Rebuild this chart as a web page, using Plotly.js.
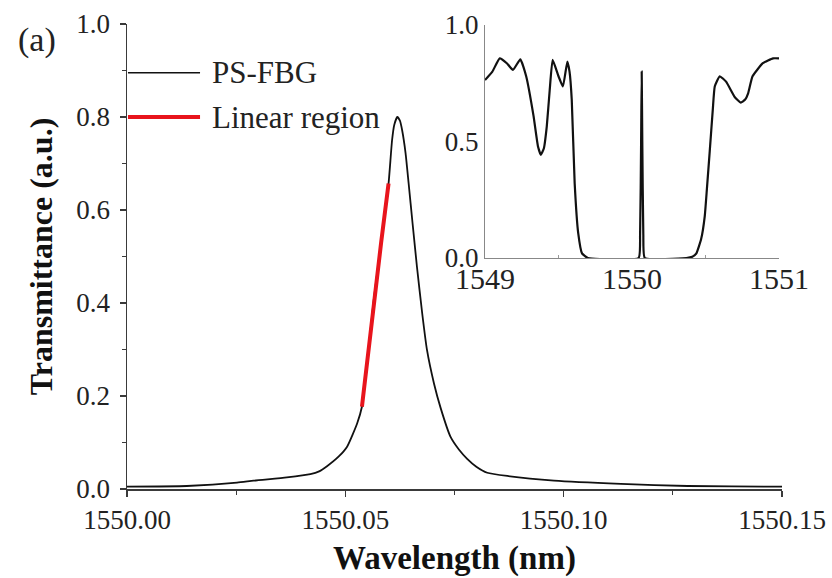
<!DOCTYPE html>
<html>
<head>
<meta charset="utf-8">
<script src="https://cdn.plot.ly/plotly-3.0.1.min.js"></script>
<style>html,body{margin:0;padding:0;background:#fff;}#chart{width:832px;height:578px;}</style>
</head>
<body>
<div id="chart"></div>
<script>
// Main spectrum (PS-FBG transmission peak)
const mainWavelength = [1550.000, 1550.0137, 1550.0252, 1550.029, 1550.0366, 1550.042, 1550.044, 1550.0458, 1550.0485, 1550.0504, 1550.0527, 1550.0538, 1550.0552, 1550.0565, 1550.0582, 1550.0599, 1550.0607, 1550.0612, 1550.0619, 1550.0625, 1550.0630, 1550.0638, 1550.0645, 1550.0654, 1550.0664, 1550.0676, 1550.0687, 1550.0703, 1550.0718, 1550.0741, 1550.0760, 1550.0779, 1550.0800, 1550.0825, 1550.0871, 1550.0978, 1550.1131, 1550.1284, 1550.1490, 1550.150];
const mainTransmittance = [0.005, 0.0065, 0.0136, 0.018, 0.025, 0.032, 0.038, 0.049, 0.07, 0.091, 0.141, 0.177, 0.29, 0.406, 0.53, 0.657, 0.75, 0.783, 0.80, 0.792, 0.772, 0.722, 0.657, 0.571, 0.478, 0.378, 0.299, 0.227, 0.175, 0.112, 0.085, 0.065, 0.048, 0.035, 0.028, 0.018, 0.011, 0.0065, 0.005, 0.005];

// Linear region (red)
const linearWavelength = [1550.0538, 1550.0552, 1550.0565, 1550.0582, 1550.0599];
const linearTransmittance = [0.177, 0.29, 0.406, 0.53, 0.657];

// Inset: full grating spectrum
const insetWavelength = [1549.00, 1549.05, 1549.10, 1549.15, 1549.19, 1549.24, 1549.28, 1549.33, 1549.36, 1549.38, 1549.40, 1549.42, 1549.44, 1549.46, 1549.50, 1549.53, 1549.56, 1549.575, 1549.59, 1549.61, 1549.634, 1549.66, 1549.70, 1550.045, 1550.055, 1550.062, 1550.066, 1550.070, 1550.077, 1550.087, 1550.37, 1550.41, 1550.438, 1550.47, 1550.495, 1550.51, 1550.529, 1550.55, 1550.563, 1550.597, 1550.64, 1550.70, 1550.74, 1550.77, 1550.79, 1550.82, 1550.89, 1550.96, 1551.00];
const insetTransmittance = [0.764, 0.80, 0.857, 0.835, 0.807, 0.853, 0.78, 0.61, 0.48, 0.443, 0.47, 0.564, 0.72, 0.85, 0.78, 0.736, 0.843, 0.80, 0.68, 0.32, 0.107, 0.02, 0.0, 0.0, 0.1, 0.5, 0.80, 0.5, 0.1, 0.0, 0.0, 0.005, 0.02, 0.08, 0.18, 0.30, 0.46, 0.64, 0.736, 0.78, 0.757, 0.69, 0.667, 0.68, 0.707, 0.78, 0.836, 0.857, 0.857];

const seriesNames = ["PS-FBG", "Linear region"];
const panelLabel = "(a)";
const xTitle = "Wavelength (nm)";
const yTitle = "Transmittance (a.u.)";

const serif = "Liberation Serif";
const axisColor = "#3a3a3a";

const traces = [
  {x: mainWavelength, y: mainTransmittance, type: "scatter", mode: "lines",
   line: {color: "#111", width: 1.8, shape: "spline", smoothing: 0.5}, name: seriesNames[0], xaxis: "x", yaxis: "y", showlegend: false},
  {x: linearWavelength, y: linearTransmittance, type: "scatter", mode: "lines",
   line: {color: "#e8141c", width: 4}, name: seriesNames[1], xaxis: "x", yaxis: "y", showlegend: false},
  {x: insetWavelength, y: insetTransmittance, type: "scatter", mode: "lines",
   line: {color: "#111", width: 2.2, shape: "spline", smoothing: 0.4}, xaxis: "x2", yaxis: "y2", showlegend: false}
];

const layout = {
  width: 832, height: 578,
  margin: {l: 127, r: 50, t: 24, b: 89},
  paper_bgcolor: "#fff", plot_bgcolor: "rgba(0,0,0,0)",
  font: {family: serif, color: "#222"},
  showlegend: false,
  xaxis: {
    domain: [0, 1], range: [1550.0, 1550.15], tickvals: [1550.00, 1550.05, 1550.10, 1550.15],
    tickformat: ".2f", ticks: "outside", ticklen: 6, tickcolor: axisColor, tickwidth: 1.2,
    minor: {tickvals: [1550.025, 1550.075, 1550.125], ticks: "outside", ticklen: 4, tickcolor: axisColor},
    showline: true, linecolor: axisColor, linewidth: 1.5, showgrid: false, zeroline: false,
    tickfont: {family: serif, size: 27, color: "#222"},
    title: {text: xTitle, font: {family: serif, size: 33, color: "#111", weight: "bold"}, standoff: 12}
  },
  yaxis: {
    domain: [0, 1], range: [0, 1], tickvals: [0, 0.2, 0.4, 0.6, 0.8, 1.0], tickformat: ".1f",
    ticks: "outside", ticklen: 6, tickcolor: axisColor, tickwidth: 1.2, ticklabelstandoff: 4,
    minor: {tickvals: [0.1, 0.3, 0.5, 0.7, 0.9], ticks: "outside", ticklen: 4, tickcolor: axisColor},
    showline: true, linecolor: axisColor, linewidth: 1.5, showgrid: false, zeroline: false,
    tickfont: {family: serif, size: 27, color: "#222"},
    title: {text: yTitle, font: {family: serif, size: 32, color: "#111", weight: "bold"}, standoff: 14}
  },
  xaxis2: {
    domain: [0.5466, 0.9954], anchor: "y2", range: [1549, 1551], tickvals: [1549, 1550, 1551],
    ticks: "", ticklabelstandoff: -6, showline: true, linecolor: "#888", linewidth: 1, showgrid: false, zeroline: false,
    minor: {tickvals: [1549.5, 1550.5], ticks: "inside", ticklen: 3, tickcolor: "#999"},
    tickfont: {family: serif, size: 30, color: "#222"}
  },
  yaxis2: {
    domain: [0.4968, 0.9978], anchor: "x2", range: [0, 1], tickvals: [0, 0.5, 1.0], tickformat: ".1f",
    ticks: "", showline: true, linecolor: "#888", linewidth: 1, showgrid: false, zeroline: false,
    tickfont: {family: serif, size: 27, color: "#222"}
  },
  shapes: [
    {type: "line", xref: "paper", yref: "y", x0: 0.0015, x1: 0.1115, y0: 0.895, y1: 0.895, line: {color: "#111", width: 1.6}},
    {type: "line", xref: "paper", yref: "y", x0: 0.0015, x1: 0.1115, y0: 0.80, y1: 0.80, line: {color: "#e8141c", width: 4}}
  ],
  annotations: [
    {xref: "paper", yref: "y", x: 0.127, y: 0.895, xanchor: "left", yanchor: "middle", text: seriesNames[0], showarrow: false, font: {family: serif, size: 31, color: "#222"}},
    {xref: "paper", yref: "y", x: 0.127, y: 0.80, xanchor: "left", yanchor: "middle", text: seriesNames[1], showarrow: false, font: {family: serif, size: 31, color: "#222"}},
    {xref: "paper", yref: "paper", x: -0.138, y: 0.966, xanchor: "center", yanchor: "middle", text: panelLabel, showarrow: false, font: {family: serif, size: 34, color: "#222"}}
  ]
};

Plotly.newPlot("chart", traces, layout, {staticPlot: true, displayModeBar: false});
</script>
</body>
</html>
